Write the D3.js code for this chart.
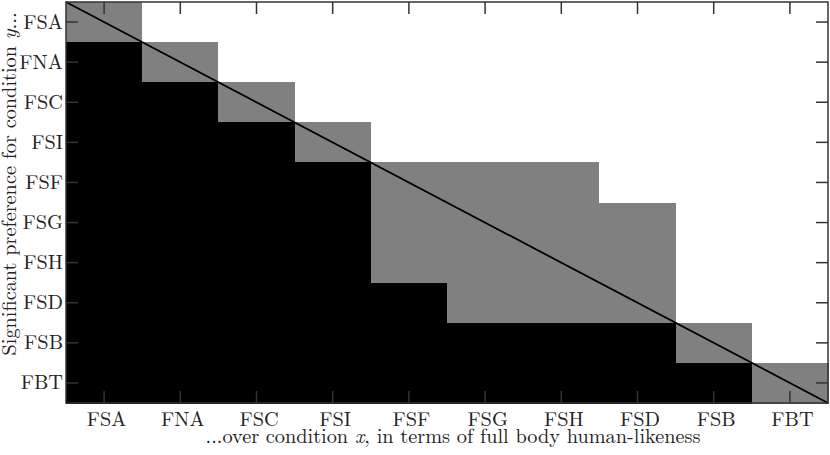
<!DOCTYPE html>
<html>
<head>
<meta charset="utf-8">
<script src="https://cdn.jsdelivr.net/npm/d3@7"></script>
<style>
  body { margin: 0; background: #fff; }
</style>
</head>
<body>
<svg id="chart"></svg>
<script>
const width = 830, height = 455;
const conditions = ["FSA", "FNA", "FSC", "FSI", "FSF", "FSG", "FSH", "FSD", "FSB", "FBT"];
// rows = condition y (top to bottom), columns = condition x; 0 white, 1 gray, 2 black
const row_FSA = [1, 0, 0, 0, 0, 0, 0, 0, 0, 0];
const row_FNA = [2, 1, 0, 0, 0, 0, 0, 0, 0, 0];
const row_FSC = [2, 2, 1, 0, 0, 0, 0, 0, 0, 0];
const row_FSI = [2, 2, 2, 1, 0, 0, 0, 0, 0, 0];
const row_FSF = [2, 2, 2, 2, 1, 1, 1, 0, 0, 0];
const row_FSG = [2, 2, 2, 2, 1, 1, 1, 1, 0, 0];
const row_FSH = [2, 2, 2, 2, 1, 1, 1, 1, 0, 0];
const row_FSD = [2, 2, 2, 2, 2, 1, 1, 1, 0, 0];
const row_FSB = [2, 2, 2, 2, 2, 2, 2, 2, 1, 0];
const row_FBT = [2, 2, 2, 2, 2, 2, 2, 2, 2, 1];
const rows = [row_FSA, row_FNA, row_FSC, row_FSI, row_FSF, row_FSG, row_FSH, row_FSD, row_FSB, row_FBT];
const shades = ["#ffffff", "#808080", "#000000"];

const serif = "'Latin Modern Roman', 'CMU Serif', 'Liberation Serif', serif";
const fontSize = '20.3px';
const margin = {top: 2, right: 2, bottom: 52, left: 66};
const svg = d3.select('#chart').attr('width', width).attr('height', height);
const x = d3.scaleBand().domain(conditions).range([margin.left, width - margin.right]);
const y = d3.scaleBand().domain(conditions).range([margin.top, height - margin.bottom]);
const color = d3.scaleOrdinal().domain([0, 1, 2]).range(shades);

const cells = [];
rows.forEach((r, i) => r.forEach((v, j) => cells.push({yc: conditions[i], xc: conditions[j], v: v})));

svg.append('g').attr('shape-rendering', 'crispEdges')
  .selectAll('rect').data(cells).enter().append('rect')
  .attr('x', d => x(d.xc))
  .attr('y', d => y(d.yc))
  .attr('width', x.bandwidth() + 0.6)
  .attr('height', y.bandwidth() + 0.6)
  .attr('fill', d => color(d.v));

// diagonal
svg.append('line')
  .attr('x1', x.range()[0]).attr('y1', y.range()[0])
  .attr('x2', x.range()[1]).attr('y2', y.range()[1])
  .attr('stroke', '#000').attr('stroke-width', 1.8);

const tickLen = 12;
function styleAxis(g, hideText) {
  g.select('.domain').remove();
  g.selectAll('.tick line').attr('stroke', '#333').attr('stroke-width', 1.5);
  g.selectAll('.tick text')
    .style('font-family', serif).style('font-size', fontSize).style('fill', '#222');
  if (hideText) g.selectAll('.tick text').remove();
}
const yb = height - margin.bottom;
svg.append('g').attr('transform', `translate(0,${yb})`)
  .call(d3.axisBottom(x).tickSizeInner(-tickLen).tickSizeOuter(0).tickPadding(9))
  .call(g => styleAxis(g, false))
  .call(g => g.selectAll('.tick text').attr('dx', 2.5));
svg.append('g').attr('transform', `translate(0,${margin.top})`)
  .call(d3.axisTop(x).tickSizeInner(-tickLen).tickSizeOuter(0))
  .call(g => styleAxis(g, true));
svg.append('g').attr('transform', `translate(${margin.left},0)`)
  .call(d3.axisLeft(y).tickSizeInner(-tickLen).tickSizeOuter(0).tickPadding(3))
  .call(g => styleAxis(g, false));
svg.append('g').attr('transform', `translate(${width - margin.right},0)`)
  .call(d3.axisRight(y).tickSizeInner(-tickLen).tickSizeOuter(0))
  .call(g => styleAxis(g, true));

// frame
svg.append('rect')
  .attr('x', margin.left).attr('y', margin.top)
  .attr('width', width - margin.left - margin.right)
  .attr('height', height - margin.top - margin.bottom)
  .attr('fill', 'none').attr('stroke', '#333').attr('stroke-width', 1.5);

const xTitle = svg.append('text')
  .attr('x', (margin.left + width - margin.right) / 2 + 6)
  .attr('y', 443)
  .attr('text-anchor', 'middle')
  .style('font-family', serif).style('font-size', fontSize).style('fill', '#222');
xTitle.append('tspan').text('...over condition ');
xTitle.append('tspan').style('font-style', 'italic').text('x');
xTitle.append('tspan').text(', in terms of full body human-likeness');

const yTitle = svg.append('text')
  .attr('transform', `translate(16,184) rotate(-90)`)
  .attr('text-anchor', 'middle')
  .style('font-family', serif).style('font-size', fontSize).style('fill', '#222');
yTitle.append('tspan').text('Significant preference for condition ');
yTitle.append('tspan').style('font-style', 'italic').text('y');
yTitle.append('tspan').text('...');
</script>
</body>
</html>
